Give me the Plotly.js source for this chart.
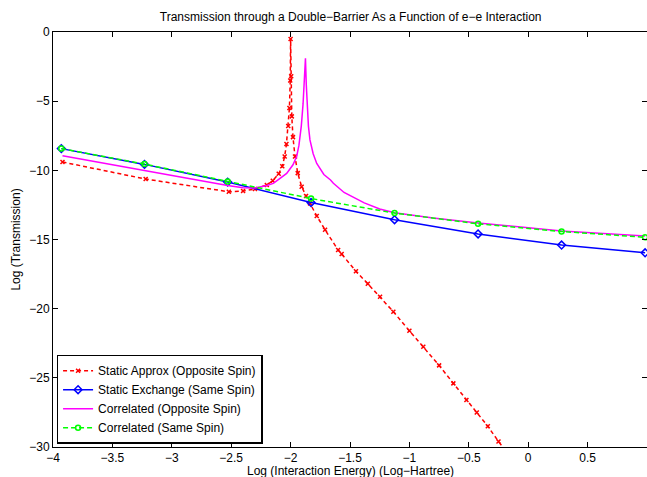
<!DOCTYPE html>
<html>
<head>
<meta charset="utf-8">
<script src="https://cdn.plot.ly/plotly-3.0.1.min.js"></script>
<style>html,body{margin:0;padding:0;background:#fff;}#chart{width:647px;height:477px;}</style>
</head>
<body>
<div id="chart"></div>
<script>
// Static Approx (Opposite Spin)
const staticOppX = [-3.92, -3.22, -2.52, -2.4, -2.3, -2.2, -2.15, -2.1, -2.07, -2.05, -2.035, -2.02, -2.01, -2.003, -2.0, -1.995, -1.99, -1.98, -1.963, -1.94, -1.907, -1.87, -1.837, -1.78, -1.71, -1.6, -1.57, -1.45, -1.35, -1.247, -1.135, -1.0, -0.883, -0.75, -0.63, -0.52, -0.433, -0.34, -0.25, -0.15];
const staticOppY = [-9.4, -10.63, -11.55, -11.5, -11.35, -11.06, -10.75, -10.25, -9.7, -9.0, -8.1, -6.8, -5.5, -3.5, -0.5, -3.2, -6.1, -7.6, -9.0, -10.2, -11.18, -11.85, -12.39, -13.3, -14.3, -15.76, -16.05, -17.3, -18.2, -19.14, -20.22, -21.6, -22.75, -24.1, -25.4, -26.6, -27.5, -28.5, -29.6, -30.7];

// Static Exchange (Same Spin) and Correlated (Same Spin) share x positions
const sameSpinX = [-3.93, -3.23, -2.53, -1.828, -1.125, -0.422, 0.281, 0.984];
const staticExchY = [-8.43, -9.57, -10.85, -12.33, -13.57, -14.6, -15.4, -15.96];
const corrSameY = [-8.43, -9.55, -10.8, -12.04, -13.09, -13.87, -14.42, -14.84];

// Correlated (Opposite Spin)
const corrOppX = [-3.92, -3.22, -2.76, -2.53, -2.4, -2.3, -2.2, -2.146, -2.1, -2.033, -1.98, -1.949, -1.93, -1.91, -1.895, -1.885, -1.875, -1.868, -1.862, -1.85, -1.837, -1.81, -1.78, -1.72, -1.664, -1.64, -1.55, -1.416, -1.38, -1.25, -1.125, -0.8, -0.422, 0.281, 0.984];
const corrOppY = [-8.94, -10.03, -10.75, -11.1, -11.25, -11.28, -11.1, -10.94, -10.65, -10.22, -9.6, -9.0, -8.2, -6.8, -5.2, -3.8, -1.9, -3.8, -5.0, -6.8, -7.8, -8.8, -9.5, -10.3, -10.7, -10.94, -11.6, -12.2, -12.35, -12.8, -13.07, -13.45, -13.8, -14.38, -14.75];

const traces = [
  {x: staticOppX, y: staticOppY, name: 'Static Approx (Opposite Spin)', mode: 'lines+markers',
   line: {color: '#ff0000', width: 1.5, dash: '4px,3px'},
   marker: {symbol: 'x-thin-open', size: 4, color: '#ff0000', line: {color: '#ff0000', width: 1.5}}},
  {x: sameSpinX, y: staticExchY, name: 'Static Exchange (Same Spin)', mode: 'lines+markers',
   line: {color: '#0000ff', width: 1.5},
   marker: {symbol: 'diamond-open', size: 6, color: '#0000ff', line: {color: '#0000ff', width: 1.5}}},
  {x: corrOppX, y: corrOppY, name: 'Correlated (Opposite Spin)', mode: 'lines',
   line: {color: '#ff00ff', width: 1.5}},
  {x: sameSpinX, y: corrSameY, name: 'Correlated (Same Spin)', mode: 'lines+markers',
   line: {color: '#00ff00', width: 1.5, dash: '5px,3px'},
   marker: {symbol: 'circle-open', size: 5, color: '#00ff00', line: {color: '#00ff00', width: 1.5}}}
];

const axisCommon = {
  showline: true, linecolor: '#000', linewidth: 1, mirror: 'ticks',
  ticks: 'inside', ticklen: 5, tickcolor: '#000', tickwidth: 1,
  showgrid: false, zeroline: false,
  tickfont: {family: 'Liberation Sans, Arial, sans-serif', size: 12, color: '#000'}
};

const layout = {
  width: 647, height: 477,
  margin: {l: 53, r: 0, t: 32, b: 30, pad: 0},
  paper_bgcolor: '#fff', plot_bgcolor: '#fff',
  font: {family: 'Liberation Sans, Arial, sans-serif', size: 12, color: '#000'},
  title: {text: 'Transmission through a Double\u2212Barrier As a Function of e\u2212e Interaction',
          x: 0.542, xanchor: 'center', y: 0.965, yanchor: 'middle',
          font: {size: 12, color: '#000'}},
  xaxis: Object.assign({}, axisCommon, {range: [-4, 1], dtick: 0.5, tick0: -4}),
  yaxis: Object.assign({}, axisCommon, {range: [-30, 0], dtick: 5, tick0: 0,
    title: {text: 'Log (Transmission)', standoff: 6, font: {size: 12}}}),
  annotations: [{text: 'Log (Interaction Energy) (Log\u2212Hartree)', xref: 'paper', yref: 'paper',
    x: 0.5, y: -0.058, xanchor: 'center', yanchor: 'middle', showarrow: false,
    font: {size: 12, color: '#000'}}],
  showlegend: true,
  legend: {x: 0.006, y: 0.008, xanchor: 'left', yanchor: 'bottom',
           bgcolor: '#fff', bordercolor: '#000', borderwidth: 1.5,
           font: {size: 12, color: '#000'}, itemwidth: 30, tracegroupgap: 0}
};

Plotly.newPlot('chart', traces, layout, {displayModeBar: false, staticPlot: true});
</script>
</body>
</html>
